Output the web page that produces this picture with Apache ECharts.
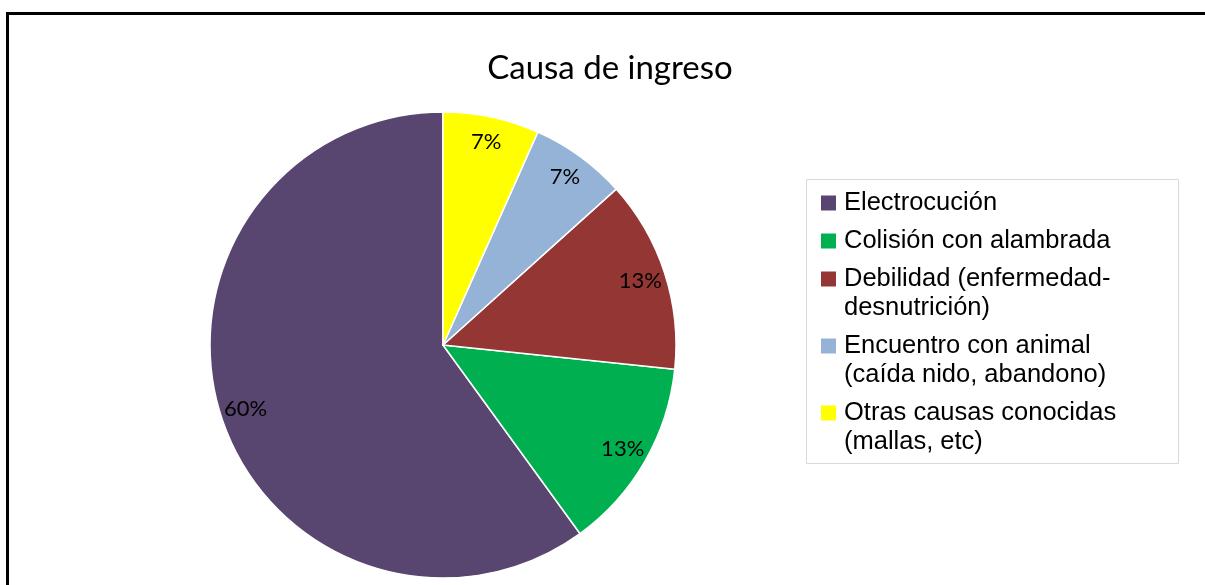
<!DOCTYPE html>
<html>
<head>
<meta charset="utf-8">
<script src="https://cdn.jsdelivr.net/npm/echarts@6/dist/echarts.min.js"></script>
<style>
  html, body { margin: 0; padding: 0; background: #fff; }
  #chart { width: 1205px; height: 585px; }
</style>
</head>
<body>
<div id="chart"></div>
<script>
// Causa de ingreso (15 casos)
const categories = [
  'Electrocución',
  'Colisión con alambrada',
  'Debilidad (enfermedad-desnutrición)',
  'Encuentro con animal (caída nido, abandono)',
  'Otras causas conocidas (mallas, etc)'
];
const legendLines = [
  'Electrocución',
  'Colisión con alambrada',
  'Debilidad (enfermedad-\ndesnutrición)',
  'Encuentro con animal\n(caída nido, abandono)',
  'Otras causas conocidas\n(mallas, etc)'
];
const counts = [9, 2, 2, 1, 1];
const colors = ['#584570', '#00b050', '#943634', '#95b3d7', '#ffff00'];

const pieData = categories.map((name, i) => ({ name, value: counts[i] }));

// marcador cuadrado como texto enriquecido, alineado con la primera línea
const rich = {
  t: { fontFamily: 'Liberation Sans', fontSize: 25.5, lineHeight: 29, color: '#000' },
  g: { width: 8, lineHeight: 29 },
  sp: { width: 15, lineHeight: 29 }
};
colors.forEach((c, i) => {
  rich['m' + i] = { width: 15, height: 15, backgroundColor: c, lineHeight: 29 };
});

let chart = echarts.init(document.getElementById('chart'), null, { renderer: 'canvas' });

chart.setOption({
  animation: false,
  color: colors,
  title: {
    text: 'Causa de ingreso',
    left: 605,
    top: 47,
    textAlign: 'center',
    textStyle: { fontFamily: 'Lato', fontSize: 33, fontWeight: 'normal', color: '#000' }
  },
  graphic: [
    {
      type: 'rect',
      shape: { x: 7.5, y: 13.5, width: 1300, height: 700 },
      style: { fill: 'none', stroke: '#000', lineWidth: 3 },
      z: -1
    },
    {
      type: 'rect',
      shape: { x: 806.5, y: 179.5, width: 372, height: 284 },
      style: { fill: 'none', stroke: '#d9d9d9', lineWidth: 1 },
      z: -1
    }
  ],
  legend: {
    orient: 'vertical',
    left: 815,
    top: 190,
    padding: 0,
    itemGap: 12,
    itemWidth: 0,
    itemHeight: 0,
    data: categories,
    selectedMode: false,
    formatter: (name) => {
      let i = categories.indexOf(name);
      return legendLines[i].split('\n')
        .map((line, k) => (k === 0 ? '{m' + i + '| }' : '{sp| }') + '{g| }{t|' + line + '}')
        .join('\n');
    },
    textStyle: { rich }
  },
  series: [
    {
      type: 'pie',
      center: [443, 345],
      radius: [0, 233],
      startAngle: 90,
      clockwise: false,
      data: pieData,
      label: { show: false },
      labelLine: { show: false },
      itemStyle: { borderColor: '#fff', borderWidth: 1.5 },
      emphasis: { disabled: true }
    },
    {
      // anillo transparente solo para colocar las etiquetas cerca del borde
      type: 'pie',
      center: [443, 345],
      radius: [176, 233],
      startAngle: 90,
      clockwise: false,
      silent: true,
      data: pieData,
      itemStyle: { color: 'transparent' },
      labelLine: { show: false },
      label: {
        show: true,
        position: 'inside',
        formatter: (p) => Math.round(p.percent) + '%',
        fontFamily: 'Lato',
        fontSize: 22,
        color: '#000'
      },
      emphasis: { disabled: true }
    }
  ]
});
</script>
</body>
</html>
